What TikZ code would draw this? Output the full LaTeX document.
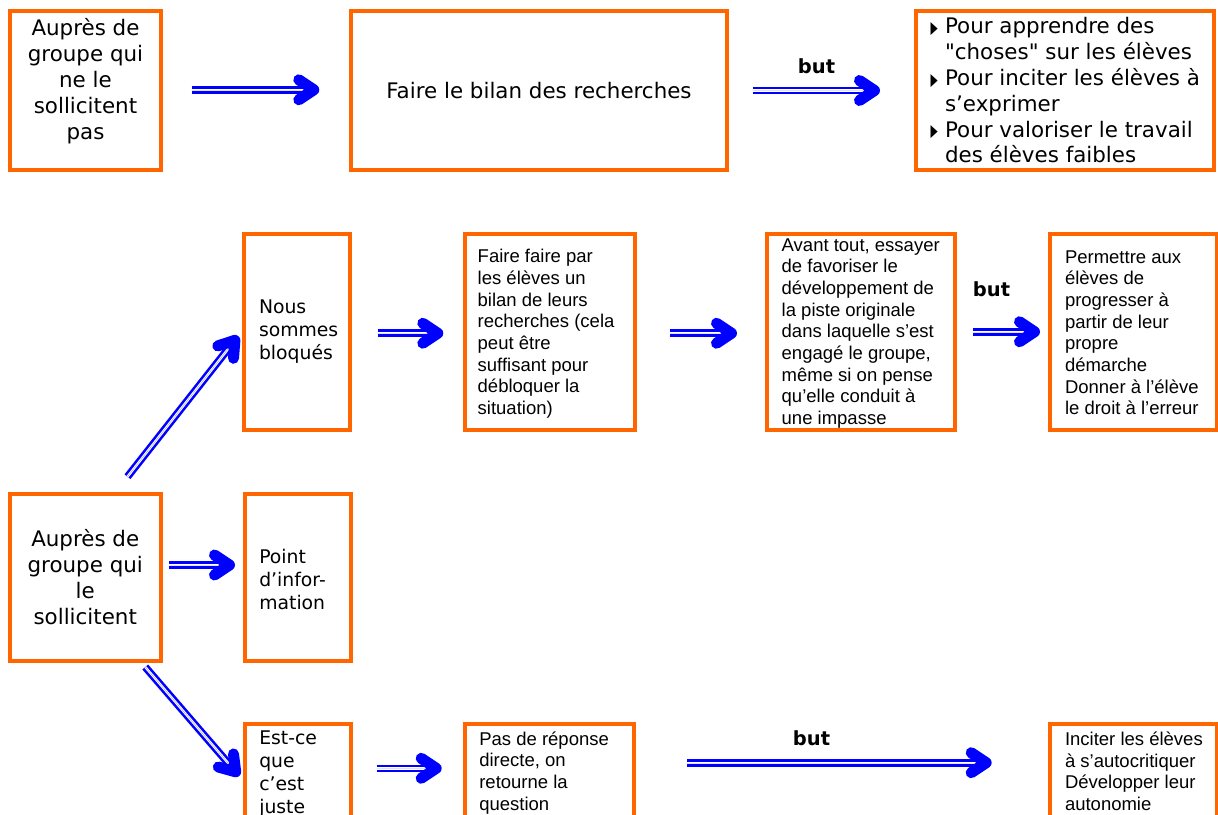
\documentclass[tikz,border=0pt]{standalone}
\usepackage{fontspec}
\usepackage{graphicx}
\usetikzlibrary{arrows.meta}
\newfontfamily\verd{DejaVu Sans}
\newfontfamily\arl{Liberation Sans}
\definecolor{boxorange}{HTML}{FF6600}
\definecolor{arrblue}{HTML}{0000FF}
\newcommand\bigf{\verd\fontsize{21.4}{25.8}\selectfont}
\newcommand\midf{\verd\fontsize{18.8}{23}\selectfont}
\newcommand\arf{\arl\fontsize{18.5}{21.65}\selectfont}
\newcommand\butf{\verd\bfseries\fontsize{19.5}{20}\selectfont}
\newcommand\tri{\makebox[14.3pt][l]{\raisebox{0.5pt}{\scalebox{0.55}[1]{\fontsize{17}{17}\selectfont ▶}}}}
\newcommand\ind{\hspace*{14.3pt}}
\begin{document}
\begin{tikzpicture}[x=1pt,y=-1pt,
  box/.style={draw=boxorange, line width=4pt, inner sep=0pt, outer sep=0pt},
  txt/.style={inner sep=0pt, outer sep=0pt, align=left, text=black},
  shaft/.style={draw=arrblue, line width=2.6pt, double=white, double distance=2.4pt},
  tipst/.style={draw=arrblue, line width=0.01pt, -{Straight Barb[length=15pt,width=20pt,line width=11pt,round]}},
  dbl/.style 2 args={preaction={shaft, shorten <=#1, shorten >=#2+9pt}, postaction={tipst, shorten <=#1, shorten >=#2}},
  lbl/.style={font=\butf, anchor=base, inner sep=0pt, text=black}]
\path[use as bounding box, fill=white] (0,0) rectangle (1218,814);
\clip (0,0) rectangle (1218,814);
% boxes
\node[box, minimum width=151pt, minimum height=159pt] (B1) at (85.5,90.5) {};
\node[box, minimum width=376pt, minimum height=159pt] (B2) at (539,90.5) {};
\node[box, minimum width=298pt, minimum height=159pt] (B3) at (1065,90.5) {};
\node[box, minimum width=106pt, minimum height=196.5pt] (B4) at (297,331.75) {};
\node[box, minimum width=170pt, minimum height=196.5pt] (B5) at (549.5,331.75) {};
\node[box, minimum width=188pt, minimum height=196.5pt] (B6) at (861,331.75) {};
\node[box, minimum width=166.5pt, minimum height=196.5pt] (B7) at (1133.25,331.75) {};
\node[box, minimum width=150.5pt, minimum height=167.5pt] (B8) at (85.25,577.25) {};
\node[box, minimum width=106pt, minimum height=167.5pt] (B9) at (297.5,577.25) {};
\node[box, minimum width=106pt, minimum height=98.5pt] (B10) at (297.5,772.75) {};
\node[box, minimum width=168.5pt, minimum height=93pt] (B11) at (549.25,770) {};
\node[box, minimum width=166.5pt, minimum height=93pt] (B12) at (1133.25,770) {};
% texts
\node[txt, align=center, font=\bigf] (t1) at ([yshift=9.3pt]B1.center) {Auprès de\\groupe qui\\ne le\\sollicitent\\pas};
\node[txt, font=\bigf] (t2) at (B2.center) {Faire le bilan des recherches};
\node[txt, font=\bigf, anchor=west] (t3) at ([xshift=14.7pt]B3.west) {\tri Pour apprendre des\\\ind"choses" sur les élèves\\\tri Pour inciter les élèves à\\\ind s’exprimer\\\tri Pour valoriser le travail\\\ind des élèves faibles};
\node[txt, font=\midf, anchor=west] (t4) at ([xshift=15pt]B4.west) {Nous\\sommes\\bloqués};
\node[txt, font=\arf, anchor=west] (t5) at ([xshift=13.2pt,yshift=-2pt]B5.west) {Faire faire par\\les élèves un\\bilan de leurs\\recherches (cela\\peut être\\suffisant pour\\débloquer la\\situation)};
\node[txt, font=\arf, anchor=west] (t6) at ([xshift=14.7pt,yshift=-1.5pt]B6.west) {Avant tout, essayer\\de favoriser le\\développement de\\la piste originale\\dans laquelle s’est\\engagé le groupe,\\même si on pense\\qu’elle conduit à\\une impasse};
\node[txt, font=\arf, anchor=west] (t7) at ([xshift=15pt,yshift=-1pt]B7.west) {Permettre aux\\élèves de\\progresser à\\partir de leur\\propre\\démarche\\Donner à l’élève\\le droit à l’erreur};
\node[txt, align=center, font=\bigf] (t8) at (B8.center) {Auprès de\\groupe qui\\le\\sollicitent};
\node[txt, font=\midf, anchor=west] (t9) at ([xshift=14.8pt,yshift=-1.75pt]B9.west) {Point\\d’infor-\\mation};
\node[txt, font=\midf, anchor=north west] (t10) at ([xshift=14.8pt,yshift=-7.5pt]B10.north west) {Est-ce\\que\\c’est\\juste};
\node[txt, font=\arf, anchor=north west] (t11) at ([xshift=14.3pt,yshift=-8pt]B11.north west) {Pas de réponse\\directe, on\\retourne la\\question};
\node[txt, font=\arf, anchor=north west] (t12) at ([xshift=15pt,yshift=-8.5pt]B12.north west) {Inciter les élèves\\à s’autocritiquer\\Développer leur\\autonomie};
% connectors
\path[dbl={30.7pt}{31.7pt}] ([yshift=0.7pt]B1.east) -- ([yshift=0.7pt]B2.west);
\path[dbl={25.7pt}{36pt}] (B2.east) -- (B3.west) node[lbl, pos=0.4735, yshift=17.2pt] (L1) {but};
\path[dbl={27.7pt}{21.2pt}] ([yshift=-1.5pt]B4.east) -- ([yshift=-1.5pt]B5.west);
\path[dbl={35.5pt}{30pt}] ([yshift=-1.5pt]B5.east) -- ([yshift=-1.5pt]B6.west);
\path[dbl={18.3pt}{10pt}] (B6.east) -- (B7.west) node[lbl, pos=0.384, yshift=35pt] (L2) {but};
\path[dbl={0pt}{0pt}] ([xshift=42.25pt,yshift=16.8pt]B8.north) -- ([xshift=-5.7pt,yshift=-4.25pt]B4.west);
\path[dbl={8.8pt}{9.5pt}] ([yshift=12.25pt]B8.east) -- ([yshift=12.25pt]B9.west);
\path[dbl={0pt}{0pt}] ([xshift=60pt,yshift=-6pt]B8.south) -- ([xshift=-5.2pt,yshift=-3.25pt]B10.west);
\path[dbl={26pt}{23.3pt}] ([yshift=4.45pt]B10.east) -- ([yshift=1.7pt]B11.west);
\path[dbl={53.8pt}{58.3pt}] ([yshift=7.3pt]B11.east) -- ([yshift=7.3pt]B12.west) node[lbl, pos=0.4274, yshift=17.7pt] (L3) {but};
\end{tikzpicture}
\end{document}
